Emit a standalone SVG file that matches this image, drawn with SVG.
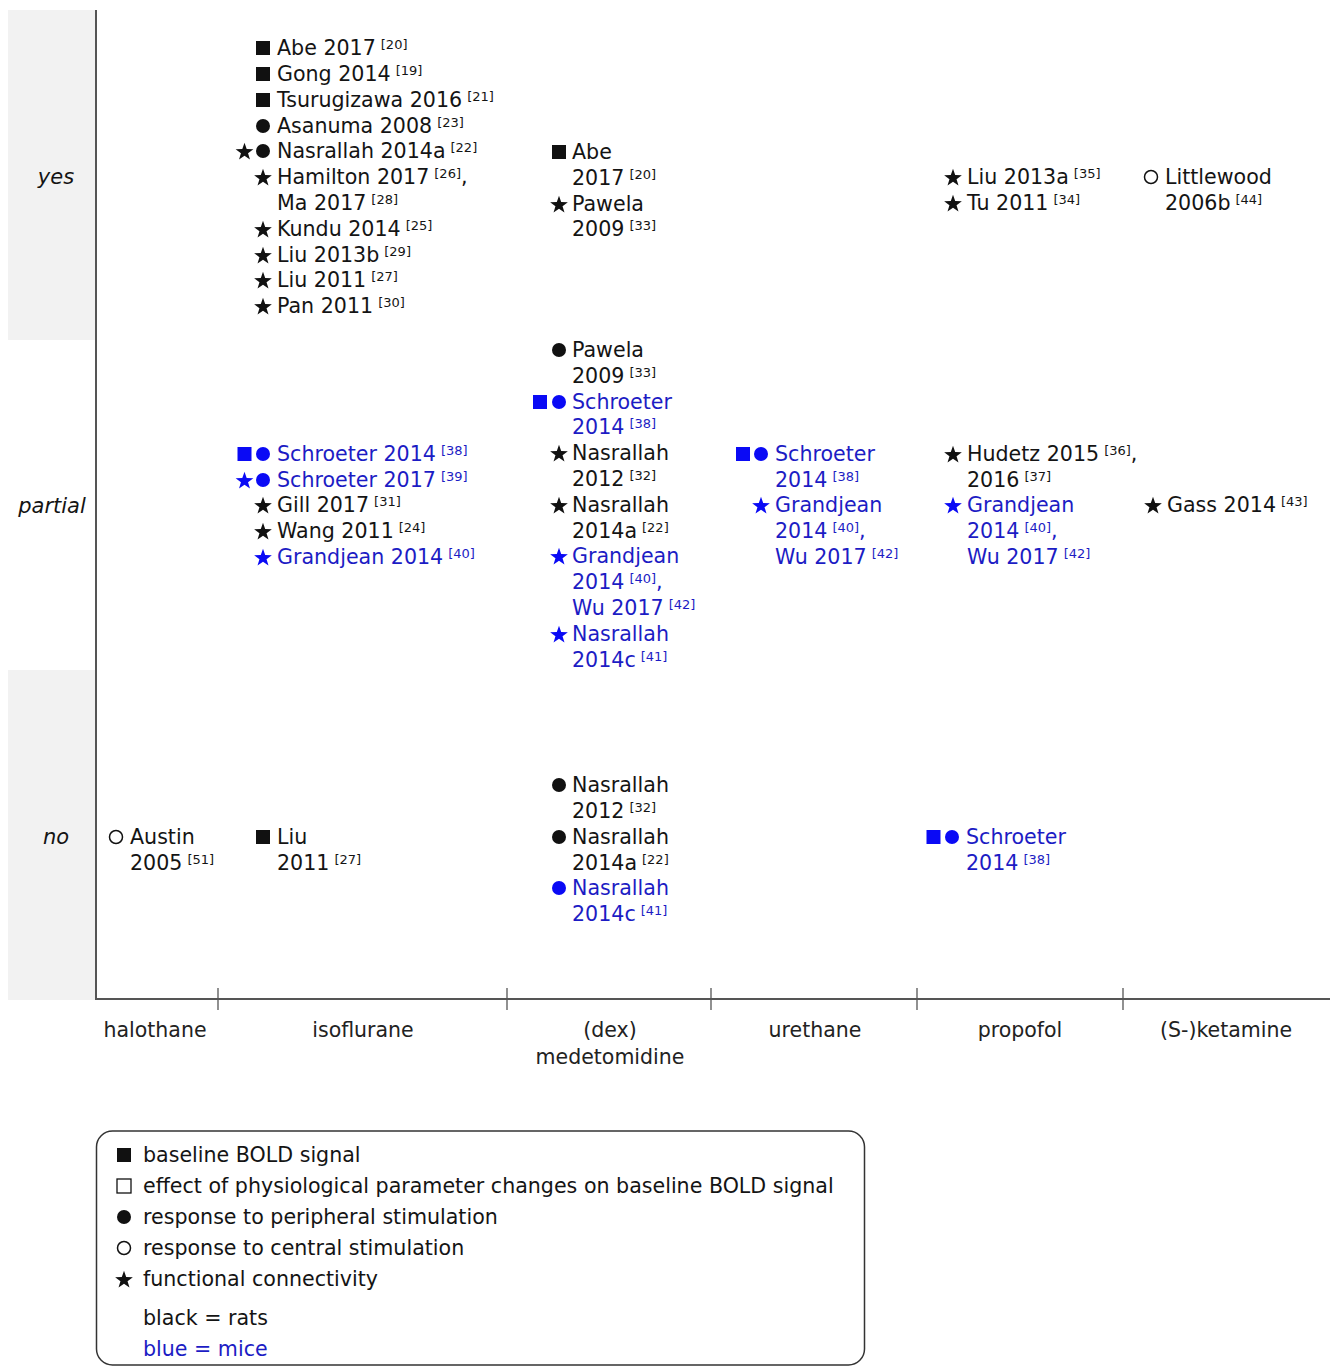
<svg xmlns="http://www.w3.org/2000/svg" width="1333" height="1367" viewBox="0 0 1333 1367">
<style>
text{font-family:"DejaVu Sans",Verdana,"Liberation Sans",sans-serif;font-size:20.6px;fill:#141414}
.bl{fill:#1c1cc4}
.s{font-size:13px}
.row{font-style:italic;font-size:21px;text-anchor:middle}
.ax{text-anchor:middle;fill:#222;font-size:20.5px}
.mk{fill:#111}
.mb{fill:#0a0af5}
.band{fill:#f2f2f2}
.axis{stroke:#555;stroke-width:2;fill:none}
.tick{stroke:#555;stroke-width:1.3;fill:none}
</style>
<defs>
<rect id="sq" x="-7" y="-7" width="14" height="14"/>
<circle id="dot" r="7"/>
<path id="star" d="M0,-9.3 L2.2,-3 L8.85,-2.87 L3.55,1.15 L5.47,7.52 L0,3.75 L-5.47,7.52 L-3.55,1.15 L-8.85,-2.87 L-2.2,-3 Z"/>
<circle id="ring" r="6.5" fill="none" stroke="#111" stroke-width="1.5"/>
<rect id="osq" x="-7" y="-7" width="14" height="14" fill="none" stroke="#111" stroke-width="1.3"/>
</defs>

<g id="bands">
<rect class="band" x="8" y="10" width="87" height="330"/>
<rect class="band" x="8" y="670" width="87" height="330"/>
</g>
<g id="row-labels">
<text class="row" x="56" y="184">yes</text>
<text class="row" x="52" y="513">partial</text>
<text class="row" x="56" y="844">no</text>
</g>

<g id="connectors">
<line class="axis" x1="96" y1="10" x2="96" y2="1000"/>
<line class="axis" x1="95" y1="999" x2="1330" y2="999"/>
<line class="tick" x1="218" y1="988" x2="218" y2="1010"/>
<line class="tick" x1="507" y1="988" x2="507" y2="1010"/>
<line class="tick" x1="711" y1="988" x2="711" y2="1010"/>
<line class="tick" x1="917" y1="988" x2="917" y2="1010"/>
<line class="tick" x1="1123" y1="988" x2="1123" y2="1010"/>
</g>

<g id="axis-labels">
<text class="ax" x="155" y="1037">halothane</text>
<text class="ax" x="363" y="1037">isoflurane</text>
<text class="ax" x="610" y="1037">(dex)</text>
<text class="ax" x="610" y="1064">medetomidine</text>
<text class="ax" x="815" y="1037">urethane</text>
<text class="ax" x="1020" y="1037">propofol</text>
<text class="ax" x="1226" y="1037">(S-)ketamine</text>
</g>

<!-- isoflurane / yes -->
<g id="iso-yes">
<g id="iso-yes-abe"><use href="#sq" x="263" y="48" class="mk"/><text x="277" y="55">Abe 2017<tspan class="s" dx="5" dy="-6">[20]</tspan></text></g>
<g id="iso-yes-gong"><use href="#sq" x="263" y="74" class="mk"/><text x="277" y="81">Gong 2014<tspan class="s" dx="5" dy="-6">[19]</tspan></text></g>
<g id="iso-yes-tsuru"><use href="#sq" x="263" y="100" class="mk"/><text x="277" y="107">Tsurugizawa 2016<tspan class="s" dx="5" dy="-6">[21]</tspan></text></g>
<g id="iso-yes-asanuma"><use href="#dot" x="263" y="126" class="mk"/><text x="277" y="133">Asanuma 2008<tspan class="s" dx="5" dy="-6">[23]</tspan></text></g>
<g id="iso-yes-nasrallah"><use href="#star" x="244.5" y="152" class="mk"/><use href="#dot" x="263" y="151" class="mk"/><text x="277" y="158">Nasrallah 2014a<tspan class="s" dx="5" dy="-6">[22]</tspan></text></g>
<g id="iso-yes-hamilton"><use href="#star" x="263" y="178" class="mk"/><text x="277" y="184">Hamilton 2017<tspan class="s" dx="5" dy="-6">[26]</tspan><tspan dy="6">,</tspan></text><text x="277" y="210">Ma 2017<tspan class="s" dx="5" dy="-6">[28]</tspan></text></g>
<g id="iso-yes-kundu"><use href="#star" x="263" y="230" class="mk"/><text x="277" y="236">Kundu 2014<tspan class="s" dx="5" dy="-6">[25]</tspan></text></g>
<g id="iso-yes-liu2013b"><use href="#star" x="263" y="256" class="mk"/><text x="277" y="262">Liu 2013b<tspan class="s" dx="5" dy="-6">[29]</tspan></text></g>
<g id="iso-yes-liu2011"><use href="#star" x="263" y="281" class="mk"/><text x="277" y="287">Liu 2011<tspan class="s" dx="5" dy="-6">[27]</tspan></text></g>
<g id="iso-yes-pan"><use href="#star" x="263" y="307" class="mk"/><text x="277" y="313">Pan 2011<tspan class="s" dx="5" dy="-6">[30]</tspan></text></g>
</g>

<!-- medetomidine / yes -->
<g id="med-yes">
<g id="med-yes-abe"><use href="#sq" x="559" y="152" class="mk"/><text x="572" y="159">Abe</text><text x="572" y="185">2017<tspan class="s" dx="5" dy="-6">[20]</tspan></text></g>
<g id="med-yes-pawela"><use href="#star" x="559" y="205" class="mk"/><text x="572" y="211">Pawela</text><text x="572" y="236">2009<tspan class="s" dx="5" dy="-6">[33]</tspan></text></g>
</g>

<!-- propofol / yes -->
<g id="pro-yes">
<g id="pro-yes-liu"><use href="#star" x="953" y="178" class="mk"/><text x="967" y="184">Liu 2013a<tspan class="s" dx="5" dy="-6">[35]</tspan></text></g>
<g id="pro-yes-tu"><use href="#star" x="953" y="204" class="mk"/><text x="967" y="210">Tu 2011<tspan class="s" dx="5" dy="-6">[34]</tspan></text></g>
</g>

<!-- ketamine / yes -->
<g id="ket-yes-littlewood"><use href="#ring" x="1151" y="177"/><text x="1165" y="184">Littlewood</text><text x="1165" y="210">2006b<tspan class="s" dx="5" dy="-6">[44]</tspan></text></g>

<!-- isoflurane / partial -->
<g id="iso-partial">
<g id="iso-p-schroeter2014"><use href="#sq" x="244.5" y="454" class="mb"/><use href="#dot" x="263" y="454" class="mb"/><text class="bl" x="277" y="461">Schroeter 2014<tspan class="s" dx="5" dy="-6">[38]</tspan></text></g>
<g id="iso-p-schroeter2017"><use href="#star" x="244.5" y="481" class="mb"/><use href="#dot" x="263" y="480" class="mb"/><text class="bl" x="277" y="487">Schroeter 2017<tspan class="s" dx="5" dy="-6">[39]</tspan></text></g>
<g id="iso-p-gill"><use href="#star" x="263" y="506" class="mk"/><text x="277" y="512">Gill 2017<tspan class="s" dx="5" dy="-6">[31]</tspan></text></g>
<g id="iso-p-wang"><use href="#star" x="263" y="532" class="mk"/><text x="277" y="538">Wang 2011<tspan class="s" dx="5" dy="-6">[24]</tspan></text></g>
<g id="iso-p-grandjean"><use href="#star" x="263" y="558" class="mb"/><text class="bl" x="277" y="564">Grandjean 2014<tspan class="s" dx="5" dy="-6">[40]</tspan></text></g>
</g>

<!-- medetomidine / partial -->
<g id="med-partial">
<g id="med-p-pawela"><use href="#dot" x="559" y="350" class="mk"/><text x="572" y="357">Pawela</text><text x="572" y="383">2009<tspan class="s" dx="5" dy="-6">[33]</tspan></text></g>
<g id="med-p-schroeter"><use href="#sq" x="540" y="402" class="mb"/><use href="#dot" x="559" y="402" class="mb"/><text class="bl" x="572" y="409">Schroeter</text><text class="bl" x="572" y="434">2014<tspan class="s" dx="5" dy="-6">[38]</tspan></text></g>
<g id="med-p-nasrallah2012"><use href="#star" x="559" y="454" class="mk"/><text x="572" y="460">Nasrallah</text><text x="572" y="486">2012<tspan class="s" dx="5" dy="-6">[32]</tspan></text></g>
<g id="med-p-nasrallah2014a"><use href="#star" x="559" y="506" class="mk"/><text x="572" y="512">Nasrallah</text><text x="572" y="538">2014a<tspan class="s" dx="5" dy="-6">[22]</tspan></text></g>
<g id="med-p-grandjean"><use href="#star" x="559" y="557" class="mb"/><text class="bl" x="572" y="563">Grandjean</text><text class="bl" x="572" y="589">2014<tspan class="s" dx="5" dy="-6">[40]</tspan><tspan dy="6">,</tspan></text><text class="bl" x="572" y="615">Wu 2017<tspan class="s" dx="5" dy="-6">[42]</tspan></text></g>
<g id="med-p-nasrallah2014c"><use href="#star" x="559" y="635" class="mb"/><text class="bl" x="572" y="641">Nasrallah</text><text class="bl" x="572" y="667">2014c<tspan class="s" dx="5" dy="-6">[41]</tspan></text></g>
</g>

<!-- urethane / partial -->
<g id="ure-partial">
<g id="ure-p-schroeter"><use href="#sq" x="743" y="454" class="mb"/><use href="#dot" x="761" y="454" class="mb"/><text class="bl" x="775" y="461">Schroeter</text><text class="bl" x="775" y="487">2014<tspan class="s" dx="5" dy="-6">[38]</tspan></text></g>
<g id="ure-p-grandjean"><use href="#star" x="761" y="506" class="mb"/><text class="bl" x="775" y="512">Grandjean</text><text class="bl" x="775" y="538">2014<tspan class="s" dx="5" dy="-6">[40]</tspan><tspan dy="6">,</tspan></text><text class="bl" x="775" y="564">Wu 2017<tspan class="s" dx="5" dy="-6">[42]</tspan></text></g>
</g>

<!-- propofol / partial -->
<g id="pro-partial">
<g id="pro-p-hudetz"><use href="#star" x="953" y="455" class="mk"/><text x="967" y="461">Hudetz 2015<tspan class="s" dx="5" dy="-6">[36]</tspan><tspan dy="6">,</tspan></text><text x="967" y="487">2016<tspan class="s" dx="5" dy="-6">[37]</tspan></text></g>
<g id="pro-p-grandjean"><use href="#star" x="953" y="506" class="mb"/><text class="bl" x="967" y="512">Grandjean</text><text class="bl" x="967" y="538">2014<tspan class="s" dx="5" dy="-6">[40]</tspan><tspan dy="6">,</tspan></text><text class="bl" x="967" y="564">Wu 2017<tspan class="s" dx="5" dy="-6">[42]</tspan></text></g>
</g>

<!-- ketamine / partial -->
<g id="ket-p-gass"><use href="#star" x="1153" y="506" class="mk"/><text x="1167" y="512">Gass 2014<tspan class="s" dx="5" dy="-6">[43]</tspan></text></g>

<!-- no row -->
<g id="hal-no-austin"><use href="#ring" x="116" y="837"/><text x="130" y="844">Austin</text><text x="130" y="870">2005<tspan class="s" dx="5" dy="-6">[51]</tspan></text></g>
<g id="iso-no-liu"><use href="#sq" x="263" y="837" class="mk"/><text x="277" y="844">Liu</text><text x="277" y="870">2011<tspan class="s" dx="5" dy="-6">[27]</tspan></text></g>
<g id="med-no">
<g id="med-n-nasrallah2012"><use href="#dot" x="559" y="785" class="mk"/><text x="572" y="792">Nasrallah</text><text x="572" y="818">2012<tspan class="s" dx="5" dy="-6">[32]</tspan></text></g>
<g id="med-n-nasrallah2014a"><use href="#dot" x="559" y="837" class="mk"/><text x="572" y="844">Nasrallah</text><text x="572" y="870">2014a<tspan class="s" dx="5" dy="-6">[22]</tspan></text></g>
<g id="med-n-nasrallah2014c"><use href="#dot" x="559" y="888" class="mb"/><text class="bl" x="572" y="895">Nasrallah</text><text class="bl" x="572" y="921">2014c<tspan class="s" dx="5" dy="-6">[41]</tspan></text></g>
</g>
<g id="pro-no-schroeter"><use href="#sq" x="933.5" y="837" class="mb"/><use href="#dot" x="952" y="837" class="mb"/><text class="bl" x="966" y="844">Schroeter</text><text class="bl" x="966" y="870">2014<tspan class="s" dx="5" dy="-6">[38]</tspan></text></g>

<!-- legend -->
<g id="legend">
<rect x="96.5" y="1131" width="768" height="234" rx="16" fill="none" stroke="#333" stroke-width="1.5"/>
<use href="#sq" x="124" y="1155" class="mk"/><text x="143" y="1162">baseline BOLD signal</text>
<use href="#osq" x="124" y="1186"/><text x="143" y="1193">effect of physiological parameter changes on baseline BOLD signal</text>
<use href="#dot" x="124" y="1217" class="mk"/><text x="143" y="1224">response to peripheral stimulation</text>
<use href="#ring" x="124" y="1248"/><text x="143" y="1255">response to central stimulation</text>
<use href="#star" x="124" y="1280" class="mk"/><text x="143" y="1286">functional connectivity</text>
<text x="143" y="1325">black = rats</text>
<text class="bl" x="143" y="1356">blue = mice</text>
</g>
</svg>
